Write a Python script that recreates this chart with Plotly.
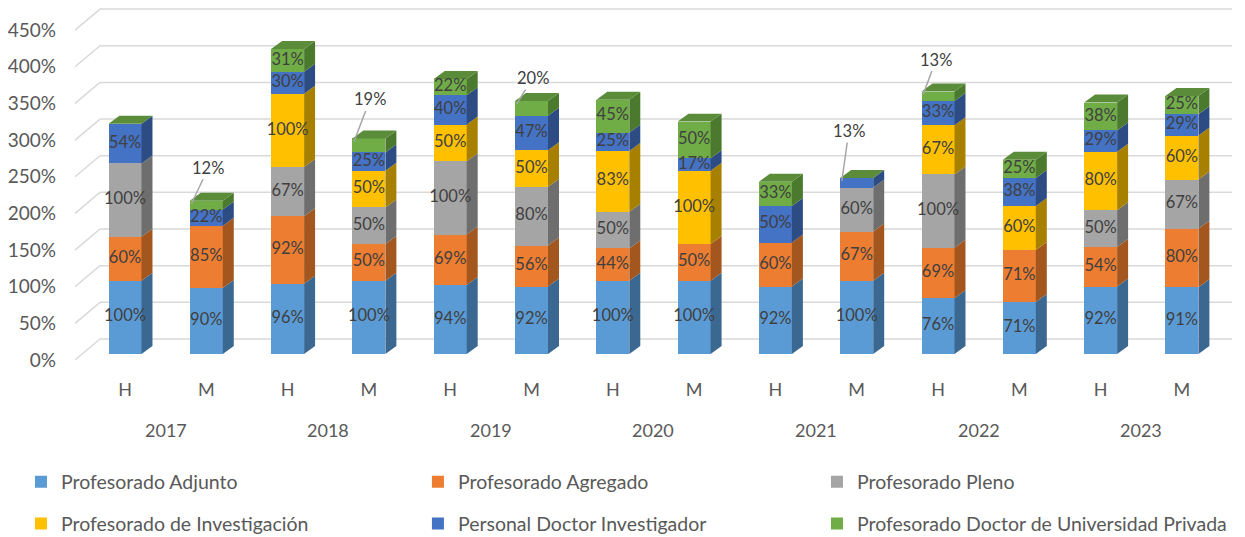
import plotly.graph_objects as go

# Data (percentages)
years = ["2017", "2018", "2019", "2020", "2021", "2022", "2023"]
sexo = ["H", "M"] * len(years)

series_names = [
    "Profesorado Adjunto",
    "Profesorado Agregado",
    "Profesorado Pleno",
    "Profesorado de Investigación",
    "Personal Doctor Investigador",
    "Profesorado Doctor de Universidad Privada",
]
adjunto = [100, 90, 96, 100, 94, 92, 100, 100, 92, 100, 76, 71, 92, 91]
agregado = [60, 85, 92, 50, 69, 56, 44, 50, 60, 67, 69, 71, 54, 80]
pleno = [100, 0, 67, 50, 100, 80, 50, 0, 0, 60, 100, 0, 50, 67]
investigacion = [0, 0, 100, 50, 50, 50, 83, 100, 0, 0, 67, 60, 80, 60]
pdi = [54, 22, 30, 25, 40, 47, 25, 17, 50, 13, 33, 38, 29, 29]
privada = [0, 12, 31, 19, 22, 20, 45, 50, 33, 0, 13, 25, 38, 25]

y_ticks = [0, 50, 100, 150, 200, 250, 300, 350, 400, 450]
y_tick_labels = ["0%", "50%", "100%", "150%", "200%", "250%", "300%",
                 "350%", "400%", "450%"]

# labels moved out of the bar with a leader line: (series index, bar index)
callouts = [(5, 1), (5, 3), (5, 5), (4, 9), (5, 10)]

# ---------------------------------------------------------------- styling
values = [adjunto, agregado, pleno, investigacion, pdi, privada]
front = ["#5B9BD5", "#ED7D31", "#A5A5A5", "#FFC000", "#4472C4", "#70AD47"]
side = ["#3A6891", "#A4561F", "#6E6E6E", "#A88000", "#2D4C84", "#4B7A2F"]
top_color = "#5A8C39"
FONT = "Lato"
AXIS_TXT = "#595959"
LABEL_TXT = "#404040"

W = 0.406          # bar width (category units)
DX = 0.135         # depth offset, x (category units)
DY = 10.9          # depth offset, y (value units)
LABEL_SHIFT = 8.2  # y tick labels sit a bit below the bar base
GRID_SHIFT = 20.5  # back wall gridlines sit above the bar values

xs = list(range(len(sexo)))
legend_ids = ["legend", "legend2", "legend3", "legend4", "legend5", "legend6"]
fig = go.Figure()

# front faces
for k, (name, vals) in enumerate(zip(series_names, values)):
    fig.add_trace(go.Bar(
        x=xs, y=vals, name=name, width=W,
        marker=dict(color=front[k], line=dict(width=0)),
        legend=legend_ids[k], hoverinfo="skip",
    ))

# side faces + top face (fake 3D)
base = [0] * len(xs)
for k, vals in enumerate(values):
    px, py = [], []
    for i, v in enumerate(vals):
        if v <= 0:
            continue
        xr = i + W / 2
        y0, y1 = base[i], base[i] + v
        px += [xr, xr + DX, xr + DX, xr, xr, None]
        py += [y0, y0 + DY, y1 + DY, y1, y0, None]
    fig.add_trace(go.Scatter(
        x=px, y=py, mode="lines", fill="toself", fillcolor=side[k],
        line=dict(width=0), showlegend=False, hoverinfo="skip",
    ))
    base = [b + v for b, v in zip(base, vals)]

tx, ty = [], []
for i, t in enumerate(base):
    xl, xr = i - W / 2, i + W / 2
    tx += [xl, xl + DX, xr + DX, xr, xl, None]
    ty += [t, t + DY, t + DY, t, t, None]
fig.add_trace(go.Scatter(
    x=tx, y=ty, mode="lines", fill="toself", fillcolor=top_color,
    line=dict(width=0), showlegend=False, hoverinfo="skip",
))

# data labels
base = [0] * len(xs)
callout_pos = {}
for k, vals in enumerate(values):
    lx, ly, lt = [], [], []
    for i, v in enumerate(vals):
        if v > 0:
            if (k, i) in callouts:
                callout_pos[(k, i)] = (base[i] + v, v)
            else:
                lx.append(i)
                ly.append(base[i] + v / 2)
                lt.append(f"{v}%")
    fig.add_trace(go.Scatter(
        x=lx, y=ly, text=lt, mode="text", showlegend=False, hoverinfo="skip",
        textfont=dict(family=FONT, size=16.5, color=LABEL_TXT),
    ))
    base = [b + v for b, v in zip(base, vals)]

# callout labels with leader lines (text offsets in px)
offsets = {(5, 1): (17, -36), (5, 3): (16, -42), (5, 5): (16, -26),
           (4, 9): (7, -50), (5, 10): (13, -35)}
for key, (ytop, v) in callout_pos.items():
    ax, ay = offsets[key]
    fig.add_annotation(
        x=key[1] - W / 2 + 0.02, y=ytop - 4, xref="x", yref="y",
        text=f"{v}%", showarrow=True, arrowhead=0, arrowwidth=1.5,
        arrowcolor="#A6A6A6", ax=ax, ay=ay, standoff=0,
        font=dict(family=FONT, size=16.5, color=LABEL_TXT),
    )

# dummy trace so the label axis is drawn
fig.add_trace(go.Scatter(x=[None], y=[None], yaxis="y2", showlegend=False,
                         hoverinfo="skip"))

# back-wall gridlines
for v in y_ticks:
    fig.add_shape(type="line", xref="paper", yref="y", layer="below",
                  x0=0, y0=v - LABEL_SHIFT, x1=0.0216, y1=v + GRID_SHIFT,
                  line=dict(color="#D9D9D9", width=1.5))
    fig.add_shape(type="line", xref="paper", yref="y", layer="below",
                  x0=0.0216, y0=v + GRID_SHIFT, x1=1, y1=v + GRID_SHIFT,
                  line=dict(color="#D9D9D9", width=1.5))

# year labels
for j, yr in enumerate(years):
    fig.add_annotation(x=2 * j + 0.5, y=-0.182, xref="x", yref="paper",
                       text=yr, showarrow=False, yanchor="middle",
                       font=dict(family=FONT, size=18, color=AXIS_TXT))

# one legend box per entry, laid out as a 3x2 grid
legend_cols = [-0.0467, 0.2964, 0.6413]
legend_rows = [-0.328, -0.445]
legends = {}
for k, lid in enumerate(legend_ids):
    legends[lid] = dict(
        orientation="h", xanchor="left", yanchor="middle",
        x=legend_cols[k % 3], y=legend_rows[k // 3],
        font=dict(family=FONT, size=19.5, color=AXIS_TXT),
    )

# the page adds an 8px body margin, so the figure is 8px smaller
y_range = [-15, 472]
fig.update_layout(
    width=1237, height=529,
    margin=dict(l=67, r=13, t=0, b=172, autoexpand=False),
    paper_bgcolor="white", plot_bgcolor="white",
    barmode="stack",
    font=dict(family=FONT, color=AXIS_TXT),
    xaxis=dict(range=[-0.615, 13.616], tickvals=xs, ticktext=sexo,
               showgrid=False, zeroline=False, showline=False, ticks="",
               ticklabelstandoff=12, automargin=False,
               tickfont=dict(family=FONT, size=18, color=AXIS_TXT)),
    yaxis=dict(range=y_range, showgrid=False, zeroline=False,
               showticklabels=False, automargin=False),
    yaxis2=dict(range=[y_range[0] + LABEL_SHIFT, y_range[1] + LABEL_SHIFT],
                overlaying="y", side="left", tickmode="array",
                tickvals=y_ticks, ticktext=y_tick_labels,
                showgrid=False, zeroline=False, automargin=False,
                ticklabelstandoff=18,
                tickfont=dict(family=FONT, size=19, color=AXIS_TXT)),
    showlegend=True,
    **legends,
)

fig.write_html("out.html")
